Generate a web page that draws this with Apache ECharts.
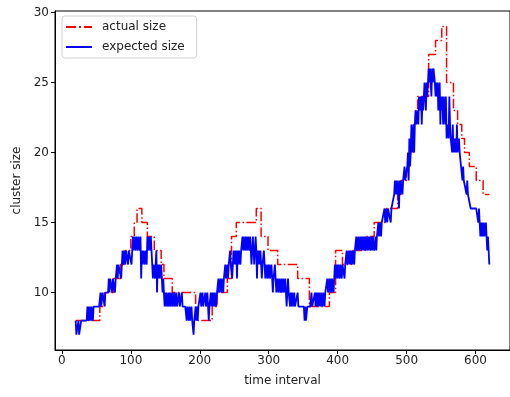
<!DOCTYPE html>
<html>
<head>
<meta charset="utf-8">
<script src="https://cdn.jsdelivr.net/npm/echarts@6/dist/echarts.min.js"></script>
<style>
  html, body { margin: 0; padding: 0; background: #fff; }
  #chart { width: 510px; height: 397px; }
</style>
</head>
<body>
<div id="chart"></div>
<script>
// Tick positions on each axis
const xTicks = [0, 100, 200, 300, 400, 500, 600];
const yTicks = [10, 15, 20, 25, 30];

// Actual cluster size: [time at which the size changes, new size]
const actualSize = [
  [20, 8], [55, 9], [62, 10], [75, 11], [85, 12], [92, 13], [100, 14], [105, 15],
  [109, 16], [116, 15], [124, 14], [134, 13], [144, 12], [148, 11], [160, 10],
  [194, 8], [218, 9], [225, 10], [240, 11], [246, 14], [253, 15], [282, 16],
  [289, 14], [299, 13], [313, 12], [342, 11], [359, 9], [388, 10], [397, 13],
  [407, 12], [420, 13], [440, 14], [453, 15], [470, 16], [487, 17], [492, 18],
  [500, 19], [505, 20], [510, 22], [513, 23], [516, 24], [532, 27], [542, 28],
  [551, 29], [558, 25], [568, 23], [574, 22], [580, 21], [584, 20], [591, 19],
  [601, 18], [611, 17], [620, 17]
];

// Expected cluster size, one value per time interval starting at t = 20
const expectedStart = 20;
const expectedSize = [
  8,7,7,7,8,7,7,7,8,8,8,8,8,8,8,8,8,9,8,9,
  8,9,8,9,9,8,9,9,9,9,9,9,9,9,9,9,10,9,9,10,
  10,10,9,10,10,10,10,10,11,10,11,11,11,10,11,11,11,10,11,11,
  12,11,12,12,12,12,11,12,13,12,13,13,12,13,13,13,12,13,13,13,
  13,12,13,14,13,14,14,13,14,14,13,14,14,13,14,11,13,12,13,13,
  12,13,13,12,14,13,14,14,13,14,13,12,11,12,12,11,12,13,10,12,
  11,12,11,11,12,11,10,11,10,9,10,9,10,10,9,10,9,10,9,9,
  10,9,9,10,9,9,10,9,9,9,10,9,9,9,10,9,9,9,9,9,
  9,8,9,9,8,9,8,8,9,8,8,7,8,8,9,8,9,8,9,9,
  9,10,9,9,10,9,9,9,10,9,9,10,9,8,9,9,10,9,10,9,
  10,9,10,10,9,10,10,11,10,10,11,10,11,11,10,11,11,12,11,11,
  12,11,12,12,13,12,12,11,12,13,12,13,12,13,11,13,12,13,13,12,
  13,13,14,13,14,14,13,14,14,13,14,14,13,14,13,12,13,14,13,12,
  13,14,13,11,13,12,13,12,13,12,11,12,12,13,12,11,12,12,11,12,
  11,12,11,11,12,11,10,11,11,12,11,10,11,11,10,11,11,10,11,10,
  10,11,10,10,11,10,9,10,11,10,10,9,10,9,10,9,9,10,9,9,
  9,9,10,9,9,9,9,9,9,9,9,9,8,9,8,8,9,9,9,9,
  9,9,10,9,9,9,9,10,9,10,9,10,9,10,10,9,10,10,9,10,
  10,9,10,10,10,11,10,10,11,10,11,10,11,11,10,11,12,11,11,12,
  11,12,12,11,12,12,11,12,12,12,11,12,12,13,12,12,13,12,13,12,
  13,12,13,13,12,13,13,14,13,13,14,13,13,14,13,14,13,14,13,14,
  13,14,14,13,14,13,14,14,13,14,13,14,14,13,13,14,13,14,14,15,
  14,15,15,14,15,15,15,15,16,15,16,16,15,16,16,16,16,15,16,16,
  16,16,17,18,17,18,17,18,18,16,18,17,18,18,17,18,18,19,18,18,
  18,19,20,18,21,19,20,22,20,21,22,20,22,23,22,22,23,22,24,23,
  23,24,22,24,23,24,25,24,23,25,24,25,26,25,26,26,24,26,25,26,
  26,25,24,25,24,25,23,24,25,22,24,23,24,22,24,23,22,24,21,22,
  22,21,24,22,21,21,20,22,20,21,20,21,20,22,20,20,21,20,20,19,
  19,18,19,18,18,18,18,17,18,17,17,17,17,16,16,16,16,16,16,16,
  16,16,16,16,15,16,15,14,15,14,15,14,15,14,14,15,14,13,14,14,
  12
];

const expectedPoints = expectedSize.map((v, i) => [expectedStart + i, v]);

const font = 'DejaVu Sans';
const textColor = '#222';

// Legend keys: a dash-dot stroke and a solid stroke, drawn as thin bars
const dashDotIcon = 'path://M0,0H10V2H0Z M13,0H15V2H13Z M18,0H26V2H18Z';
const solidIcon = 'path://M0,0H26V2H0Z';

const chart = echarts.init(document.getElementById('chart'), null, { renderer: 'canvas' });
chart.setOption({
  animation: false,
  backgroundColor: '#fff',
  textStyle: { fontFamily: font },
  grid: {
    left: 55, right: -5, top: 11, bottom: 47,
    show: true, borderColor: '#000', borderWidth: 1, backgroundColor: 'transparent'
  },
  legend: {
    left: 62, top: 16,
    orient: 'vertical',
    itemWidth: 26, itemHeight: 2, itemGap: 6,
    padding: [4, 12, 4, 4],
    backgroundColor: '#fff',
    borderColor: '#d0d0d0', borderWidth: 1, borderRadius: 3,
    textStyle: { fontFamily: font, fontSize: 12, color: textColor, padding: [0, 0, 0, 5], lineHeight: 14 },
    data: [
      { name: 'actual size', icon: dashDotIcon, itemStyle: { color: '#ff0000' } },
      { name: 'expected size', icon: solidIcon, itemStyle: { color: '#0000ff' } }
    ]
  },
  xAxis: {
    type: 'value', min: -10, max: 650,
    name: 'time interval', nameLocation: 'middle', nameGap: 25,
    nameTextStyle: { fontFamily: font, fontSize: 12, color: textColor },
    axisLine: { show: true, onZero: false, lineStyle: { color: '#000', width: 1 } },
    axisTick: { show: true, inside: false, length: 4, lineStyle: { color: '#000' }, customValues: xTicks },
    axisLabel: { fontFamily: font, fontSize: 12, color: textColor, margin: 5, customValues: xTicks },
    splitLine: { show: false }
  },
  yAxis: {
    type: 'value', min: 5.9, max: 30.1,
    name: 'cluster size', nameLocation: 'middle', nameGap: 32, nameRotate: 90,
    nameTextStyle: { fontFamily: font, fontSize: 12, color: textColor },
    axisLine: { show: true, onZero: false, lineStyle: { color: '#000', width: 1 } },
    axisTick: { show: true, inside: false, length: 4, lineStyle: { color: '#000' }, customValues: yTicks },
    axisLabel: { fontFamily: font, fontSize: 12, color: textColor, margin: 6, customValues: yTicks },
    splitLine: { show: false }
  },
  series: [
    {
      name: 'actual size', type: 'line', step: 'end',
      data: actualSize, symbol: 'none', showSymbol: false,
      lineStyle: { color: '#ff0000', width: 1.5, type: [9.6, 2.4, 1.5, 2.4] },
      itemStyle: { color: '#ff0000' }
    },
    {
      name: 'expected size', type: 'line',
      data: expectedPoints, symbol: 'none', showSymbol: false,
      lineStyle: { color: '#0000ff', width: 1.8 },
      itemStyle: { color: '#0000ff' }
    }
  ]
});
</script>
</body>
</html>
